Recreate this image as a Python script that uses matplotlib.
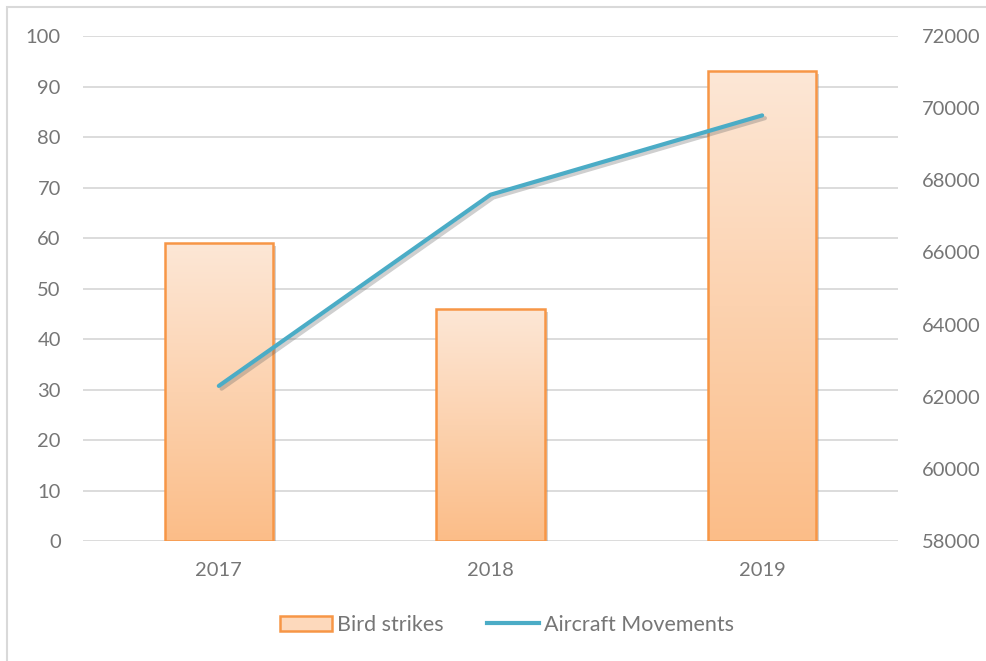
import numpy as np
import matplotlib
matplotlib.use("Agg")
import matplotlib.pyplot as plt
from matplotlib.patches import Rectangle
from matplotlib.colors import LinearSegmentedColormap
import matplotlib.patheffects as pe

# ---------------------------------------------------------
# data
# ---------------------------------------------------------
years = ["2017", "2018", "2019"]
bird_strikes = [59, 46, 93]
aircraft_movements = [62300, 67600, 69800]

left_ticks = np.arange(0, 101, 10)
right_ticks = np.arange(58000, 72001, 2000)

# ---------------------------------------------------------
# style
# ---------------------------------------------------------
plt.rcParams["font.family"] = ["Lato", "DejaVu Sans"]
text_col = "#767676"
grid_col = "#D9D9D9"
edge_col = "#F79646"
line_col = "#4BACC6"
fs = 14.5

grad = LinearSegmentedColormap.from_list("peach", ["#FBBD88", "#FDE7D6"])

fig = plt.figure(figsize=(9.87, 6.61), dpi=100)
ax = fig.add_axes([0.0841, 0.1815, 0.8257, 0.764])

x = np.arange(len(years))
width = 0.4

ax.set_xlim(-0.5, len(years) - 0.5)
ax.set_ylim(0, 100)

# gridlines
ax.set_yticks(left_ticks)
ax.grid(axis="y", color=grid_col, linewidth=1.3)
ax.set_axisbelow(True)
for s in ax.spines.values():
    s.set_visible(False)
ax.tick_params(axis="y", length=0, pad=16, labelsize=fs, labelcolor=text_col)
ax.tick_params(axis="x", length=0, pad=15, labelsize=fs, labelcolor=text_col)
ax.set_xticks(x)
ax.set_xticklabels(years)

# bars: shadow, gradient fill, orange outline
shadow_fx = [pe.SimplePatchShadow(offset=(2, -2), shadow_rgbFace="#808080", alpha=0.35), pe.Normal()]
for xi, h in zip(x, bird_strikes):
    x0 = xi - width / 2
    ax.bar(xi, h, width, color="white", edgecolor="none", zorder=2, path_effects=shadow_fx)
    rect = Rectangle((x0, 0), width, h, transform=ax.transData, facecolor="none", edgecolor="none")
    ax.add_patch(rect)
    img = ax.imshow(np.linspace(0, 1, 256).reshape(-1, 1), cmap=grad, origin="lower",
                    extent=[x0, x0 + width, 0, h], aspect="auto", zorder=3, interpolation="bilinear")
    img.set_clip_path(rect)
    ax.bar(xi, h, width, facecolor="none", edgecolor=edge_col, linewidth=1.8, zorder=4)

ax.set_xlim(-0.5, len(years) - 0.5)
ax.set_ylim(0, 100)

# secondary axis: aircraft movements
ax2 = ax.twinx()
ax2.set_ylim(58000, 72000)
ax2.set_yticks(right_ticks)
ax2.set_yticklabels([str(v) for v in right_ticks])
ax2.tick_params(axis="y", length=0, pad=17, labelsize=fs, labelcolor=text_col)
for s in ax2.spines.values():
    s.set_visible(False)
ax2.plot(x, aircraft_movements, color=line_col, linewidth=3, solid_capstyle="round", zorder=5,
         path_effects=[pe.SimpleLineShadow(offset=(2, -2), shadow_color="#606060", alpha=0.3),
                       pe.Normal()])

# legend
h_bar = Rectangle((0, 0), 1, 1, facecolor="#FDD9BC", edgecolor=edge_col, linewidth=1.8)
h_line = plt.Line2D([0], [0], color=line_col, linewidth=3)
fig.legend([h_bar, h_line], ["Bird strikes", "Aircraft Movements"], loc="center",
           bbox_to_anchor=(507 / 987, 1 - 625 / 661), ncol=2, frameon=False,
           fontsize=15.5, labelcolor=text_col, handlelength=2.4, handleheight=0.7,
           handletextpad=0.25, columnspacing=2.0)

# outer frame of the chart area
fig.patches.append(Rectangle((7 / 987, -0.1), 1.2, 1 - 7 / 661 + 0.1, transform=fig.transFigure,
                             fill=False, edgecolor=grid_col, linewidth=1.5))

fig.savefig("out.png", dpi=100)
